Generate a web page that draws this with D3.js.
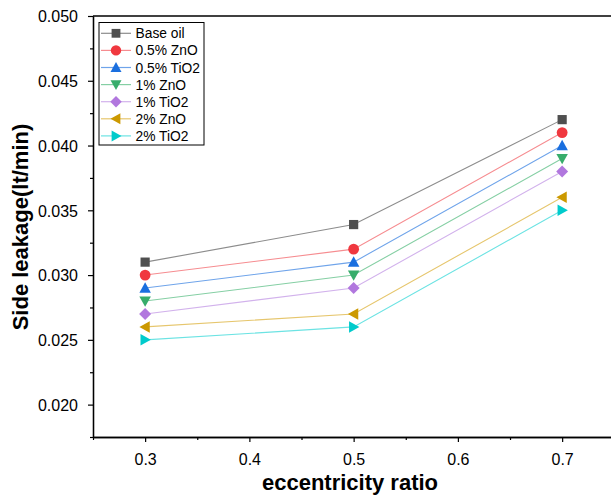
<!DOCTYPE html>
<html>
<head>
<meta charset="utf-8">
<script src="https://cdn.jsdelivr.net/npm/d3@7"></script>
<style>
  body { margin: 0; background: #fff; }
  svg { display: block; font-family: "Liberation Sans", Arial, sans-serif; }
</style>
</head>
<body>
<svg id="chart" width="611" height="497"></svg>
<script>
// data
const ratios = [0.3, 0.5, 0.7];
const seriesNames = ["Base oil", "0.5% ZnO", "0.5% TiO2", "1% ZnO", "1% TiO2", "2% ZnO", "2% TiO2"];
const baseOil = [0.0310, 0.0339, 0.0420];
const zno05 = [0.0300, 0.0320, 0.0410];
const tio05 = [0.0290, 0.0310, 0.0400];
const zno1 = [0.0280, 0.0300, 0.0390];
const tio1 = [0.0270, 0.0290, 0.0380];
const zno2 = [0.0260, 0.0270, 0.0360];
const tio2 = [0.0250, 0.0260, 0.0350];
const xTicks = [0.3, 0.4, 0.5, 0.6, 0.7];
const yTicks = [0.020, 0.025, 0.030, 0.035, 0.040, 0.045, 0.050];

const seriesValues = [baseOil, zno05, tio05, zno1, tio1, zno2, tio2];
const colors = ["#4f4f4f", "#f0383f", "#1a6fdf", "#37ad6b", "#b177de", "#cc9900", "#00cbcc"];
const lineColors = ["#8c8c8c", "#f68c90", "#6fa4ea", "#85cfa4", "#d2b2ec", "#e6c66d", "#6ce3e3"];
const shapes = ["square", "circle", "triUp", "triDown", "diamond", "triLeft", "triRight"];

const svg = d3.select("#chart");

const x = d3.scaleLinear().domain([0.25, 0.8]).range([93, 666.4]);
const y = d3.scaleLinear().domain([0.0175, 0.050]).range([437, 16]);

const markerPath = (shape, s) => {
    switch (shape) {
        case "square": return `M${-s},${-s}H${s}V${s}H${-s}Z`;
        case "circle": return d3.symbol(d3.symbolCircle, Math.PI * (s + 0.8) * (s + 0.8))();
        case "triUp": return `M0,${-s * 1.25}L${s * 1.25},${s}L${-s * 1.25},${s}Z`;
        case "triDown": return `M0,${s * 1.25}L${s * 1.25},${-s}L${-s * 1.25},${-s}Z`;
        case "triLeft": return `M${-s * 1.25},0L${s},${-s * 1.25}L${s},${s * 1.25}Z`;
        case "triRight": return `M${s * 1.25},0L${-s},${-s * 1.25}L${-s},${s * 1.25}Z`;
        case "diamond": return `M0,${-s * 1.3}L${s * 1.3},0L0,${s * 1.3}L${-s * 1.3},0Z`;
    }
};

// axes
const xAxis = svg.append("g").attr("transform", `translate(0, ${y.range()[0]})`)
    .call(d3.axisBottom(x).tickValues(xTicks).tickFormat(d3.format(".1f")).tickSize(5).tickSizeOuter(0));
svg.append("g").attr("transform", `translate(0, ${y.range()[0]})`)
    .call(d3.axisBottom(x).tickValues([0.25, 0.35, 0.45, 0.55, 0.65, 0.75]).tickFormat("").tickSize(3).tickSizeOuter(0));

const yAxis = svg.append("g").attr("transform", `translate(${x.range()[0]}, 0)`)
    .call(d3.axisLeft(y).tickValues(yTicks).tickFormat(d3.format(".3f")).tickSize(5).tickSizeOuter(0));
svg.append("g").attr("transform", `translate(${x.range()[0]}, 0)`)
    .call(d3.axisLeft(y).tickValues([0.0175, 0.0225, 0.0275, 0.0325, 0.0375, 0.0425, 0.0475]).tickFormat("").tickSize(3).tickSizeOuter(0));

svg.selectAll(".domain").attr("stroke", "#000").attr("stroke-width", 1.3);
svg.selectAll(".tick line").attr("stroke", "#000").attr("stroke-width", 1.2);
svg.selectAll(".tick text").attr("fill", "#000").style("font-size", "16px")
    .style("font-family", "'Liberation Sans', Arial, sans-serif");
xAxis.selectAll(".tick text").attr("y", 28).attr("dy", null);
yAxis.selectAll(".tick text").attr("x", -15).attr("dy", "0.36em");

// top frame line
svg.append("line")
    .attr("x1", x.range()[0]).attr("x2", 611)
    .attr("y1", y(0.050)).attr("y2", y(0.050))
    .attr("stroke", "#000").attr("stroke-width", 1.6);

// titles
svg.append("text")
    .attr("x", 350).attr("y", 490)
    .attr("text-anchor", "middle")
    .style("font-size", "22px").style("font-weight", "bold")
    .text("eccentricity ratio");

svg.append("text")
    .attr("transform", `translate(28, 227) rotate(-90)`)
    .attr("text-anchor", "middle")
    .style("font-size", "22px").style("font-weight", "bold")
    .text("Side leakage(lt/min)");

// series
const line = d3.line().x((d, i) => x(ratios[i])).y(d => y(d));

seriesValues.forEach((vals, k) => {
    const g = svg.append("g").attr("class", "series");
    g.append("path")
        .datum(vals)
        .attr("fill", "none")
        .attr("stroke", lineColors[k])
        .attr("stroke-width", 1.1)
        .attr("d", line);
    g.selectAll("path.pt")
        .data(vals)
        .enter().append("path")
            .attr("class", "pt")
            .attr("transform", (d, i) => `translate(${x(ratios[i])}, ${y(d)})`)
            .attr("d", markerPath(shapes[k], 4.6))
            .attr("fill", colors[k]);
});

// legend
const legend = svg.append("g").attr("transform", "translate(99, 22.5)");
legend.append("rect")
    .attr("width", 105).attr("height", 122.5)
    .attr("fill", "#fff").attr("stroke", "#000").attr("stroke-width", 1);

seriesNames.forEach((name, k) => {
    const ly = 10.8 + k * 17.1;
    legend.append("line")
        .attr("x1", 2).attr("x2", 32).attr("y1", ly).attr("y2", ly)
        .attr("stroke", lineColors[k]).attr("stroke-width", 1.2);
    legend.append("path")
        .attr("transform", `translate(17, ${ly})`)
        .attr("d", markerPath(shapes[k], 4.4))
        .attr("fill", colors[k]);
    legend.append("text")
        .attr("x", 36.5).attr("y", ly + 5)
        .style("font-size", "13.8px")
        .text(name);
});
</script>
</body>
</html>
